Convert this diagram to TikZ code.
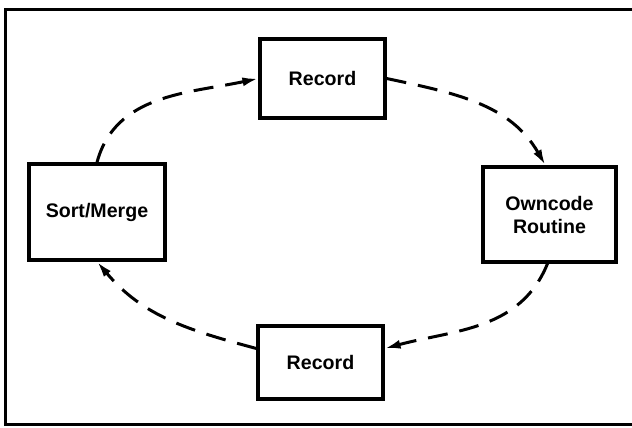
\documentclass[tikz,border=0pt]{standalone}
\usepackage{fontspec}
\setmainfont{Liberation Sans}
\usetikzlibrary{arrows.meta}
\begin{document}
\begin{tikzpicture}[x=0.5pt, y=0.5pt,
		main/.style = {draw, line width=1.6pt, align=center, inner sep=0pt,
			font=\fontsize{9.8}{11.5}\selectfont\bfseries},
		flow/.style = {line width=1.5pt, dash pattern=on 10pt off 6pt,
			-{Latex[length=8pt, width=4.5pt]}}]
		\useasboundingbox (0,0) rectangle (632,428);
		\draw[line width=1.5pt] (633,418) -- (5,418) -- (5,3) -- (633,3);
		\node[main, minimum width=62.5pt, minimum height=39.5pt] (rec1) at (322.5,349.5) {Record};
		\node[main, minimum width=66.5pt, minimum height=47.5pt] (own) at (549.5,213.5) {Owncode\\Routine};
		\node[main, minimum width=62.5pt, minimum height=36.5pt] (rec2) at (320.5,65.5) {Record};
		\node[main, minimum width=68pt, minimum height=48pt] (sort) at (97,216) {Sort/Merge};
		\draw[flow] (sort.north) to[out=75, in=192] (rec1.west);
		\draw[flow] (rec1.east) to[out=-12, in=120] ([xshift=-2pt]own.north);
		\draw[flow] ([xshift=-1pt]own.south) to[out=-112, in=15] ([yshift=7pt]rec2.east);
		\draw[flow] ([yshift=7pt]rec2.west) to[out=165, in=-50] (sort.south);
	\end{tikzpicture}
\end{document}
